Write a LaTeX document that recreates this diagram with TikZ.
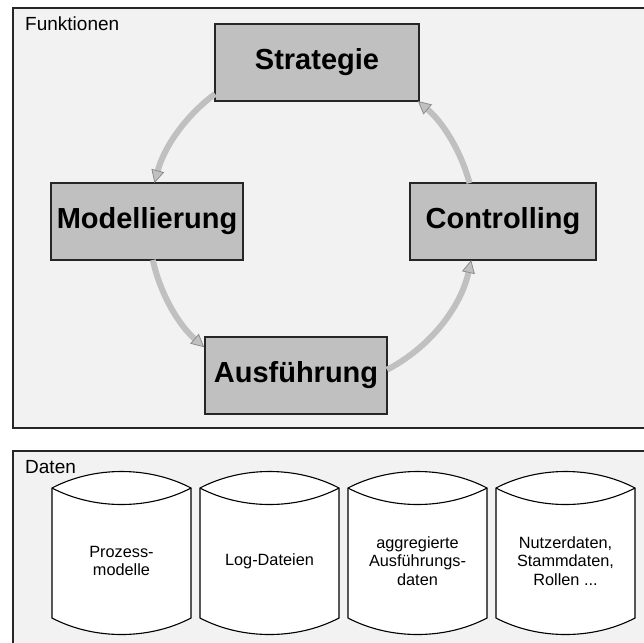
\documentclass[tikz,border=0pt]{standalone}
\usepackage{fontspec}
\setmainfont{Liberation Sans}
\usetikzlibrary{arrows.meta}
\definecolor{panel}{HTML}{F2F2F2}
\definecolor{boxgray}{HTML}{C0C0C0}
\definecolor{ringgray}{HTML}{C0C0C0}
\definecolor{tipedge}{HTML}{8C8C8C}
\definecolor{rule}{HTML}{262626}

% data store drawn as a can: #1 left edge, #2 node name, #3 label
\newcommand\datacan[3]{%
  \draw[canline] (#1,488) -- (#1,618)
    .. controls (#1+42,640) and (#1+97,640) .. (#1+139,618)
    -- (#1+139,488)
    .. controls (#1+97,466) and (#1+42,466) .. cycle;
  \draw[canline] (#1,488) .. controls (#1+42,510) and (#1+97,510) .. (#1+139,488);
  \node[cantext] (#2) at (#1+69.5,561) {#3};
}

\begin{document}
\begin{tikzpicture}[x=1pt,y=-1pt,
  panelframe/.style={draw=rule, line width=1.2pt, fill=panel},
  paneltitle/.style={anchor=base west, inner sep=0pt, font=\fontsize{19}{22}\selectfont},
  stage/.style={draw=rule, line width=1.2pt, fill=boxgray, minimum height=77pt,
    inner sep=0pt, font=\fontsize{29}{34}\selectfont\bfseries},
  ringarrow/.style={draw=ringgray, line width=6pt,
    -{Triangle[length=13pt,width=13pt,line width=0.8pt,color=tipedge,fill=ringgray]}},
  canline/.style={draw=black, line width=1.1pt, fill=white},
  cantext/.style={align=center, inner sep=0pt, font=\fontsize{16.3}{18.5}\selectfont}
]
\useasboundingbox (0,0) rectangle (644,642);
\clip (0,0) rectangle (644,642);

% panels
\draw[panelframe] (13,8) rectangle (660,428);
\draw[panelframe] (13,451) rectangle (660,660);
\node[paneltitle] (fkt) at (25,30.5) {Funktionen};
\node[paneltitle] (dat) at (25,473) {Daten};

% process stages
\node[stage, minimum width=204pt] (strat) at (317,62.5) {Strategie};
\node[stage, minimum width=192pt] (model) at (147,221.5) {Modellierung};
\node[stage, minimum width=186pt] (ctrl)  at (503,221.5) {Controlling};
\node[stage, minimum width=182pt] (exec)  at (296,375.5) {Ausführung};

% cycle around the hub
\coordinate (hub) at (312,225);
\draw[ringarrow] ([shift={(-126.5:163)}]hub) arc[start angle=-126.5, end angle=-165.1, radius=163];
\draw[ringarrow] ([shift={(-192.4:163)}]hub) arc[start angle=-192.4, end angle=-228.6, radius=163];
\draw[ringarrow] ([shift={(-297.4:163)}]hub) arc[start angle=-297.4, end angle=-347.6, radius=163];
\draw[ringarrow] ([shift={(-14.9:163)}]hub) arc[start angle=-14.9, end angle=-49.5, radius=163];

% data stores
\datacan{52}{prozess}{Prozess-\\modelle}
\datacan{200}{logs}{Log-Dateien}
\datacan{348}{aggr}{aggregierte\\Ausführungs-\\daten}
\datacan{496}{nutzer}{Nutzerdaten,\\Stammdaten,\\Rollen ...}
\end{tikzpicture}
\end{document}
